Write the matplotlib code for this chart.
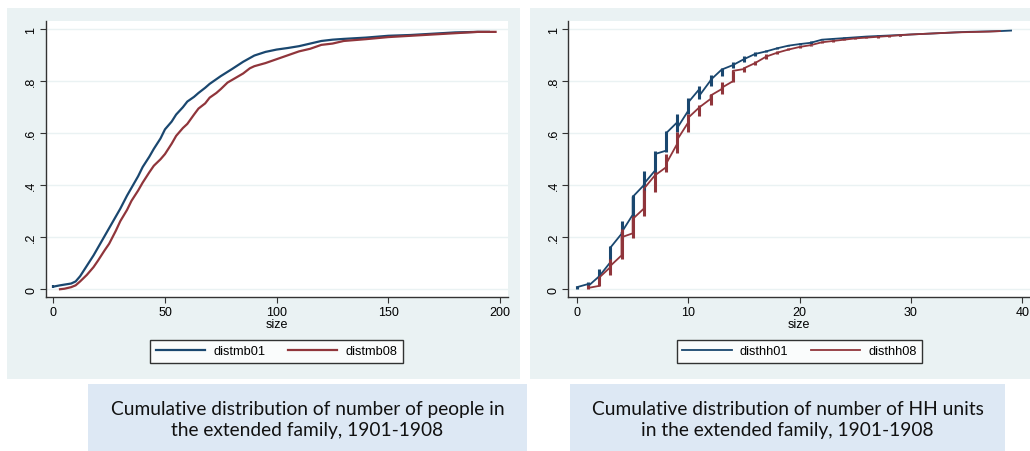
import matplotlib
matplotlib.use("Agg")
import matplotlib.pyplot as plt
from matplotlib.patches import Rectangle

# left panel: cumulative distribution of extended family size (people)
mb_x01 = [0, 3, 8, 10, 12, 15, 18, 20, 23, 25, 28, 30, 33, 35, 38, 40, 43, 45, 48, 50,
          53, 55, 58, 60, 63, 65, 68, 70, 75, 80, 85, 90, 95, 100, 105, 110, 115, 120,
          125, 130, 140, 150, 160, 170, 180, 190, 195]
mb_y01 = [0.01, 0.015, 0.022, 0.03, 0.05, 0.09, 0.13, 0.16, 0.205, 0.235, 0.28, 0.31, 0.36,
          0.39, 0.435, 0.47, 0.51, 0.54, 0.58, 0.615, 0.645, 0.672, 0.70, 0.722, 0.74,
          0.755, 0.775, 0.79, 0.82, 0.847, 0.875, 0.899, 0.913, 0.922, 0.928, 0.935, 0.945,
          0.955, 0.96, 0.963, 0.968, 0.975, 0.978, 0.983, 0.988, 0.99, 0.99]
mb_x08 = [3, 5, 8, 10, 12, 15, 18, 20, 23, 25, 28, 30, 33, 35, 38, 40, 43, 45, 48, 50,
          53, 55, 58, 60, 63, 65, 68, 70, 73, 75, 78, 80, 85, 88, 90, 95, 100, 105, 110,
          115, 120, 125, 130, 140, 150, 160, 170, 180, 190, 198]
mb_y08 = [0.0, 0.002, 0.008, 0.015, 0.03, 0.055, 0.085, 0.11, 0.15, 0.175, 0.225, 0.262,
          0.305, 0.34, 0.38, 0.41, 0.45, 0.475, 0.5, 0.52, 0.56, 0.59, 0.62, 0.636, 0.672,
          0.695, 0.715, 0.737, 0.755, 0.77, 0.795, 0.805, 0.83, 0.85, 0.858, 0.87, 0.885,
          0.9, 0.915, 0.925, 0.94, 0.945, 0.955, 0.962, 0.97, 0.975, 0.98, 0.985, 0.99, 0.99]

# right panel: cumulative distribution of HH units
hh_x01 = list(range(0, 40))
hh_in01 = [0.008, 0.02, 0.05, 0.104, 0.213, 0.286, 0.40, 0.456, 0.533, 0.642, 0.687, 0.77,
           0.803, 0.845, 0.862, 0.885, 0.905, 0.915, 0.927, 0.937, 0.943, 0.948, 0.96, 0.963,
           0.966, 0.969, 0.972, 0.974, 0.976, 0.978, 0.98, 0.982, 0.984, 0.986, 0.988, 0.99,
           0.991, 0.992, 0.993, 0.995]
hh_out01 = [0.008, 0.012, 0.05, 0.16, 0.218, 0.355, 0.405, 0.52, 0.60, 0.62, 0.719, 0.745,
            0.805, 0.845, 0.862, 0.885, 0.905, 0.915, 0.927, 0.937, 0.943, 0.948, 0.96, 0.963,
            0.966, 0.969, 0.972, 0.974, 0.976, 0.978, 0.98, 0.982, 0.984, 0.986, 0.988, 0.99,
            0.991, 0.992, 0.993, 0.995]
hh_barx01 = list(range(0, 30))
hh_lo01 = [0.0, 0.01, 0.04, 0.09, 0.19, 0.277, 0.373, 0.444, 0.527, 0.604, 0.674, 0.732,
           0.78, 0.822, 0.85, 0.873, 0.896, 0.912, 0.924, 0.935, 0.941, 0.945, 0.957, 0.961,
           0.964, 0.967, 0.970, 0.972, 0.974, 0.976]
hh_hi01 = [0.014, 0.027, 0.078, 0.168, 0.264, 0.363, 0.456, 0.533, 0.61, 0.674, 0.735, 0.78,
           0.824, 0.85, 0.873, 0.896, 0.912, 0.922, 0.931, 0.941, 0.947, 0.956, 0.963, 0.966,
           0.969, 0.972, 0.975, 0.977, 0.979, 0.981]

hh_x08 = list(range(1, 39))
hh_in08 = [0.005, 0.013, 0.085, 0.13, 0.215, 0.31, 0.438, 0.469, 0.559, 0.642, 0.70, 0.732,
           0.77, 0.80, 0.847, 0.87, 0.895, 0.91, 0.922, 0.932, 0.939, 0.95, 0.955, 0.96,
           0.965, 0.968, 0.971, 0.974, 0.977, 0.98, 0.982, 0.984, 0.986, 0.988, 0.989, 0.99,
           0.991, 0.993]
hh_out08 = [0.005, 0.045, 0.09, 0.20, 0.27, 0.386, 0.438, 0.482, 0.575, 0.66, 0.70, 0.745,
            0.775, 0.84, 0.85, 0.87, 0.895, 0.91, 0.922, 0.932, 0.939, 0.95, 0.955, 0.96,
            0.965, 0.968, 0.971, 0.974, 0.977, 0.98, 0.982, 0.984, 0.986, 0.988, 0.989, 0.99,
            0.991, 0.993]
hh_barx08 = list(range(1, 30))
hh_lo08 = [0.0, 0.012, 0.053, 0.117, 0.196, 0.283, 0.373, 0.45, 0.524, 0.604, 0.668, 0.709,
           0.751, 0.796, 0.837, 0.863, 0.886, 0.905, 0.92, 0.929, 0.937, 0.947, 0.952, 0.957,
           0.962, 0.965, 0.968, 0.971, 0.974]
hh_hi08 = [0.017, 0.046, 0.117, 0.232, 0.283, 0.38, 0.45, 0.52, 0.604, 0.674, 0.709, 0.751,
           0.796, 0.841, 0.854, 0.879, 0.903, 0.918, 0.927, 0.935, 0.941, 0.953, 0.958, 0.963,
           0.968, 0.971, 0.974, 0.977, 0.980]

y_ticks = [0, 0.2, 0.4, 0.6, 0.8, 1]
y_labels = ["0", ".2", ".4", ".6", ".8", "1"]

captions = ["Cumulative distribution of number of people in\nthe extended family, 1901-1908",
            "Cumulative distribution of number of HH units\nin the extended family, 1901-1908"]

NAVY = "#1a476f"
MAROON = "#90353b"
PANEL = "#eaf2f3"
CAPBOX = "#dde8f4"

plt.rcParams['font.family'] = ['Liberation Sans', 'DejaVu Sans']

W, H = 1030, 452
fig = plt.figure(figsize=(W / 100, H / 100), dpi=100)


def px_rect(x0, y0, x1, y1):
    # pixel box (top-left origin) -> figure fraction rect
    return [x0 / W, 1 - y1 / H, (x1 - x0) / W, (y1 - y0) / H]


# grey panel backgrounds and caption boxes
for x0, x1 in [(7, 520), (530, 1030)]:
    r = px_rect(x0, 9, x1, 380)
    fig.add_artist(Rectangle((r[0], r[1]), r[2], r[3], transform=fig.transFigure,
                             facecolor=PANEL, edgecolor="none", zorder=-10))
for (x0, x1), cap in zip([(88, 527), (570, 1005)], captions):
    r = px_rect(x0, 385, x1, 452)
    fig.add_artist(Rectangle((r[0], r[1]), r[2], r[3], transform=fig.transFigure,
                             facecolor=CAPBOX, edgecolor="none", zorder=-10))
    fig.text((x0 + x1) / 2 / W, 1 - 420 / H, cap, ha="center", va="center",
             fontsize=13.8, family=["Lato", "DejaVu Sans"], linespacing=1.3, color="#111111")


def style_axes(ax):
    ax.set_facecolor("white")
    for s in ["top", "right"]:
        ax.spines[s].set_visible(False)
    for s in ["left", "bottom"]:
        ax.spines[s].set_color("#333333")
        ax.spines[s].set_linewidth(1)
    ax.set_yticks(y_ticks)
    ax.set_yticklabels(y_labels, rotation=90, va="center")
    ax.tick_params(axis="both", labelsize=9, length=4, color="#333333", pad=2)
    ax.grid(axis="y", color=PANEL, linewidth=1)
    ax.set_axisbelow(True)
    ax.set_ylim(-0.031, 1.033)
    ax.set_xlabel("size", fontsize=9, labelpad=0)


def add_legend(ax, cx):
    ax.legend(loc="center", bbox_to_anchor=(cx / W, 1 - 352.5 / H), bbox_transform=fig.transFigure,
              ncol=2, fontsize=9.2, frameon=True, fancybox=False, edgecolor="black",
              handlelength=3.85, columnspacing=1.75, borderpad=0.45, handletextpad=0.65)


# left panel
ax1 = fig.add_axes(px_rect(45.7, 21.7, 508.3, 298.3))
style_axes(ax1)
ax1.plot(mb_x01, mb_y01, color=NAVY, lw=1.6, label="distmb01")
ax1.plot(mb_x08, mb_y08, color=MAROON, lw=1.6, label="distmb08")
ax1.vlines([0], [0.004], [0.016], color=NAVY, lw=1.6)
ax1.set_xlim(-3.4, 203.7)
ax1.set_xticks([0, 50, 100, 150, 200])
add_legend(ax1, 276.5)

# right panel
ax2 = fig.add_axes(px_rect(568.3, 21.7, 1030, 298.3))
style_axes(ax2)
for xs, yin, yout, bx, lo, hi, col, lab in [
        (hh_x01, hh_in01, hh_out01, hh_barx01, hh_lo01, hh_hi01, NAVY, "disthh01"),
        (hh_x08, hh_in08, hh_out08, hh_barx08, hh_lo08, hh_hi08, MAROON, "disthh08")]:
    px, py = [], []
    for x, a, b in zip(xs, yin, yout):
        px += [x, x]
        py += [a, b]
    ax2.plot(px, py, color=col, lw=1.3, label=lab)
    ax2.vlines(bx, lo, hi, color=col, lw=2.2)
ax2.set_xlim(-0.78, 40.7)
ax2.set_xticks([0, 10, 20, 30, 40])
add_legend(ax2, 799.5)

fig.savefig("out.png", dpi=100)
